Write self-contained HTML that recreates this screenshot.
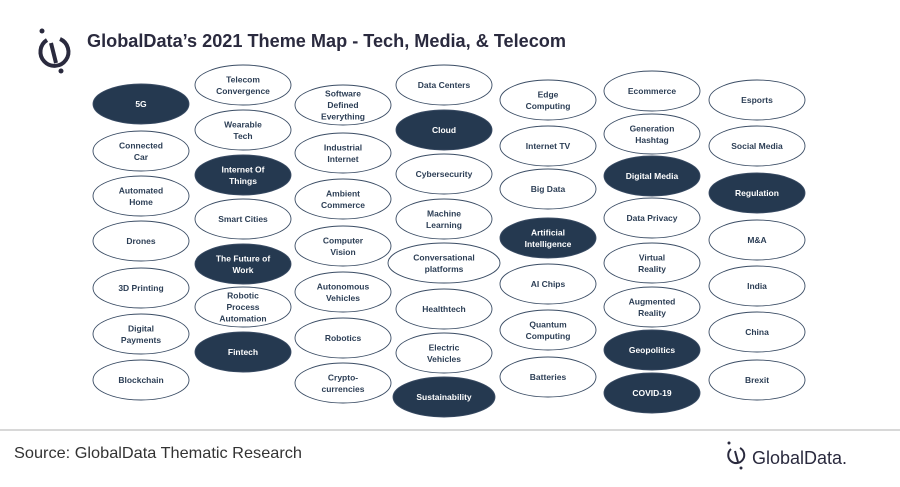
<!DOCTYPE html>
<html><head><meta charset="utf-8"><style>
body{margin:0;width:900px;height:482px;background:#fff;overflow:hidden;font-family:"Liberation Sans",sans-serif}
</style></head><body>
<svg width="900" height="482" viewBox="0 0 900 482" xmlns="http://www.w3.org/2000/svg" font-family="Liberation Sans, sans-serif">
<g fill="none" stroke="#2a2a3e" stroke-width="4">
<path d="M47 40 A14 14 0 1 0 60 39"/>
<line x1="51" y1="43" x2="56" y2="63"/>
</g>
<circle cx="42" cy="31" r="2.5" fill="#2a2a3e"/><circle cx="61" cy="71" r="2.5" fill="#2a2a3e"/>
<text x="87" y="47" font-size="18" font-weight="bold" fill="#2a2a3e" textLength="479" lengthAdjust="spacingAndGlyphs">GlobalData’s 2021 Theme Map - Tech, Media, &amp; Telecom</text>
<g id="e" font-size="8.5" font-weight="bold" text-anchor="middle"></g>
<line x1="0" y1="430" x2="900" y2="430" stroke="#ccc" stroke-width="1.5"/>
<text x="14" y="458" font-size="16" fill="#333" textLength="288" lengthAdjust="spacingAndGlyphs">Source: GlobalData Thematic Research</text>
<g fill="none" stroke="#2a2a3e" stroke-width="2">
<path d="M731 449 A8 8 0 1 0 740 448"/><line x1="735" y1="451" x2="738" y2="462"/>
</g>
<circle cx="729" cy="443" r="1.5" fill="#2a2a3e"/><circle cx="741" cy="468" r="1.5" fill="#2a2a3e"/>
<text x="752" y="464" font-size="18" fill="#2a2a3e">GlobalData.</text>
</svg>
<script>
var D=[
[141,[["5G",104,1],["Connected|Car",151],["Automated|Home",196],["Drones",241],["3D Printing",288],["Digital|Payments",334],["Blockchain",380]]],
[243,[["Telecom|Convergence",85],["Wearable|Tech",130],["Internet Of|Things",175,1],["Smart Cities",219],["The Future of|Work",264,1],["Robotic|Process|Automation",307],["Fintech",352,1]]],
[343,[["Software|Defined|Everything",105],["Industrial|Internet",153],["Ambient|Commerce",199],["Computer|Vision",246],["Autonomous|Vehicles",292],["Robotics",338],["Crypto-|currencies",383]]],
[444,[["Data Centers",85],["Cloud",130,1],["Cybersecurity",174],["Machine|Learning",219],["Conversational|platforms",263,0,112],["Healthtech",309],["Electric|Vehicles",353],["Sustainability",397,1,102]]],
[548,[["Edge|Computing",100],["Internet TV",146],["Big Data",189],["Artificial|Intelligence",238,1],["AI Chips",284],["Quantum|Computing",330],["Batteries",377]]],
[652,[["Ecommerce",91],["Generation|Hashtag",134],["Digital Media",176,1],["Data Privacy",218],["Virtual|Reality",263],["Augmented|Reality",307],["Geopolitics",350,1],["COVID-19",393,1]]],
[757,[["Esports",100],["Social Media",146],["Regulation",193,1],["M&A",240],["India",286],["China",332],["Brexit",380]]]];
var g=document.getElementById('e'),h="";
D.forEach(function(c){c[1].forEach(function(t){
var x=c[0],y=t[1],d=t[2],w=(t[3]||96)/2;
h+='<ellipse cx="'+x+'" cy="'+y+'" rx="'+w+'" ry="20" fill="'+(d?'#253950':'#fff')+'" stroke="#3a4c64" stroke-width="0.9"/>';
var L=t[0].split('|'),n=L.length;
L.forEach(function(s,i){var yy=y+3+(i-(n-1)/2)*11.5;
h+='<text x="'+x+'" y="'+yy+'" fill="'+(d?'#fff':'#2c3e55')+'">'+s.replace('&','&amp;')+'</text>';});
});});
g.innerHTML=h;
</script>
</body></html>
